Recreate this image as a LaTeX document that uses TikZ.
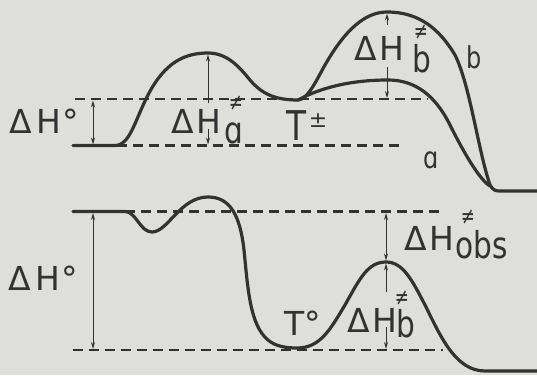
\documentclass[tikz,border=0pt]{standalone}
\usepackage{fontspec}
\usepackage{graphicx}
\newfontfamily\lab{DejaVu Sans}
\newfontfamily\labn[FakeStretch=0.8]{DejaVu Sans}
\newfontfamily\labnn[FakeStretch=0.7]{DejaVu Sans}
\usetikzlibrary{arrows.meta}
\definecolor{bg}{RGB}{222,222,219}
\definecolor{ink}{RGB}{50,50,50}
\newcommand{\dHtxt}{Δ\kern3pt H}
\newcommand{\dHotxt}{Δ\kern5pt H\kern1pt°}
\tikzset{
  curve/.style={ink, line width=3.2pt, line join=round, line cap=round},
  dashline/.style={ink, line width=2.2pt, dash pattern=on 10pt off 6pt},
  dimone/.style={ink, line width=1pt, -{Stealth[length=7pt,width=4pt]}},
  dimtwo/.style={ink, line width=1pt, {Stealth[length=7pt,width=4pt]}-{Stealth[length=7pt,width=4pt]}},
  lbl/.style={text=ink, inner sep=0pt, anchor=base west, font=\fontsize{33}{33}\selectfont\lab},
  sublbl/.style={text=ink, inner sep=0pt, anchor=base west, font=\fontsize{37}{37}\selectfont\labn},
  curvelbl/.style={text=ink, inner sep=0pt, anchor=base west, font=\fontsize{30}{30}\selectfont\labn},
  neqlbl/.style={text=ink, inner sep=0pt, anchor=base, text height=14pt, text depth=0pt, font=\fontsize{24}{24}\selectfont\labnn},
}
\begin{document}
\begin{tikzpicture}[x=1pt,y=-1pt]
\fill[bg] (0,0) rectangle (537,375);
\useasboundingbox (0,0) rectangle (537,375);

% ---------- upper diagram ----------
\draw[dashline] (75,99) -- (428,99);
\draw[dashline] (117,145.5) -- (400,145.5);
\draw[curve] (73,145.5) -- (115,145.5) .. controls (130,145.5) and (135,120) .. (148,95)
  .. controls (165,62) and (185,53) .. (208,53)
  .. controls (228,53) and (240,68) .. (250,80)
  .. controls (262,94) and (275,100) .. (298,100)
  .. controls (308,100) and (318,77) .. (325,65)
  .. controls (345,30) and (365,12) .. (387,12)
  .. controls (420,12) and (440,30) .. (455,55)
  .. controls (470,85) and (478,150) .. (490,185)
  .. controls (493,190) and (495,191) .. (500,191) -- (537,191);
\draw[curve] (298,100) .. controls (320,88) and (350,80) .. (388,80)
  .. controls (415,80) and (435,95) .. (450,125)
  .. controls (465,155) and (480,180) .. (490,186);

\draw[dimtwo] (93,100.5) -- (93,144.5);
\draw[dimone] (208,103) -- (208,54.5);
\draw[dimone] (208,129) -- (208,144.5);
\draw[dimone] (387,25) -- (387,13.5);
\draw[dimone] (387,67) -- (387,98);

\node[lbl] (uH0) at (9,133) {\dHotxt};
\node[lbl] (uHa) at (171,133) {\dHtxt};
\node[neqlbl] (uNa) at (236,110) {≠};
\node[sublbl] (uSa) at (224,143) {ɑ};
\node[lbl] (uHb) at (354,60) {\dHtxt};
\node[neqlbl] (uNb) at (421,39) {≠};
\node[sublbl] (uSb) at (412,72) {b};
\node[curvelbl] (cb) at (466,68) {b};
\node[curvelbl] (ca) at (423,168) {ɑ};
\node[text=ink, inner sep=0pt, anchor=base west, font=\fontsize{41}{41}\selectfont\labn] (uT) at (286,140) {T};
\node[text=ink, inner sep=0pt, anchor=base, font=\fontsize{22}{22}\selectfont\lab] (uPM) at (318,127) {±};

% ---------- lower diagram ----------
\draw[dashline] (125,211.5) -- (443,211.5);
\draw[dashline] (73,350) -- (443,350);
\draw[curve] (73,211.5) -- (125,211.5) .. controls (136,211.5) and (140,232) .. (152,232)
  .. controls (168,232) and (180,197) .. (208,197)
  .. controls (230,197) and (240,215) .. (244,250)
  .. controls (248,290) and (250,325) .. (268,340)
  .. controls (275,346) and (285,348) .. (297,348)
  .. controls (320,348) and (330,330) .. (345,305)
  .. controls (360,278) and (368,262) .. (386,262)
  .. controls (403,262) and (412,280) .. (425,305)
  .. controls (440,335) and (455,371) .. (485,371) -- (537,371);

\draw[dimtwo] (93,213) -- (93,349);
\draw[dimtwo] (386,213) -- (386,260.5);
\draw[dimone] (386,292) -- (386,263.5);
\draw[dimone] (386,327) -- (386,349);

\node[lbl] (lH0) at (8,290) {\dHotxt};
\node[lbl] (lHo) at (404,250) {\dHtxt};
\node[neqlbl] (lNo) at (468,224) {≠};
\node[sublbl] (lSo) at (455,258) {obs};
\node[lbl] (lHb) at (347,332) {\dHtxt};
\node[neqlbl] (lNb) at (402,305) {≠};
\node[sublbl] (lSb) at (396,337) {b};
\node[lbl] (lT) at (284,335) {T°};
\end{tikzpicture}
\end{document}
